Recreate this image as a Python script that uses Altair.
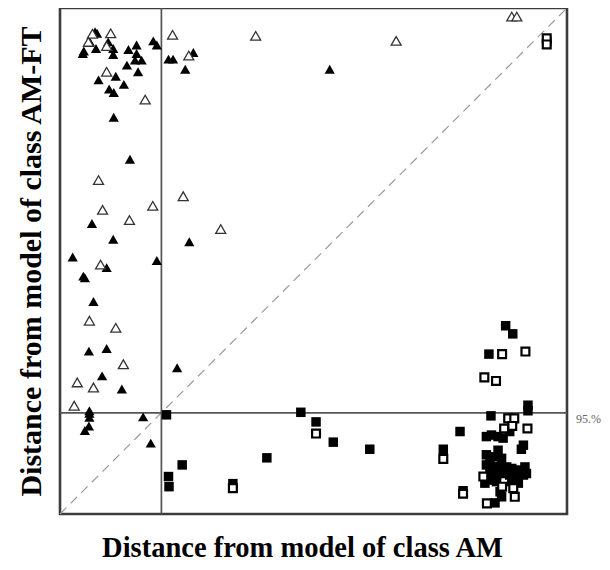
import altair as alt
import pandas as pd

# Class AM-FT samples (triangles)
tri_fill_x = [6.9, 5.9, 4.7, 4.5, 7.1, 9.5, 10.5, 10.5, 13.5, 15.1, 15.1, 14.8, 16.1, 13.2, 15.4,
              18.4, 19.1, 21.4, 22.3, 26.3, 24.7, 7.6, 11.0, 12.6, 9.7, 10.6, 10.6, 13.8, 6.3, 10.5,
              25.5, 2.5, 9.2, 19.1, 4.6, 4.9, 6.6, 5.7, 9.2, 23.1, 8.3, 12.2, 5.8, 5.8, 5.8, 16.4,
              5.7, 4.9, 17.9, 53.2, 7.3]
tri_fill_y = [95.3, 93.3, 91.5, 91.0, 92.0, 93.3, 92.0, 90.8, 91.8, 92.7, 91.0, 89.7, 89.7, 88.7, 87.4,
              93.5, 92.7, 89.9, 89.9, 91.2, 87.9, 85.8, 86.5, 84.9, 84.0, 83.3, 78.4, 70.1, 57.4, 54.3,
              53.8, 50.8, 48.7, 50.1, 47.0, 46.7, 42.0, 32.2, 32.7, 28.9, 27.3, 24.7, 20.4, 19.9, 19.1, 19.2,
              17.4, 16.5, 14.0, 87.9, 95.0]
tri_open_x = [6.4, 10.0, 5.6, 9.2, 22.2, 25.4, 9.2, 16.8, 7.6, 24.3, 18.3, 8.4, 13.7, 31.7, 8.0,
              5.8, 11.0, 12.5, 3.4, 6.6, 2.8, 38.6, 66.3, 89.1, 90.1]
tri_open_y = [94.9, 95.0, 93.3, 92.5, 94.7, 90.6, 87.4, 81.9, 66.0, 62.8, 60.9, 60.1, 58.1, 56.3, 49.3,
              38.2, 36.8, 29.6, 26.0, 25.0, 21.4, 94.5, 93.5, 98.3, 98.3]

# Class AM samples (squares)
sq_fill_x = [21.0, 47.5, 50.5, 53.9, 61.1, 40.8, 24.1, 21.4, 21.5, 34.1, 75.6, 78.9, 79.5, 96.0,
             87.9, 89.3, 84.6, 92.3, 92.3, 85.0, 88.7,
             84.1, 85.1, 86.4, 87.4, 86.4, 84.1, 84.8, 85.8, 87.1, 84.1, 85.4, 86.8, 88.1, 89.1, 90.1,
             84.8, 86.1, 87.4, 88.7, 90.1, 84.5, 86.1, 89.1, 90.4, 91.7, 92.0, 91.4, 91.4, 91.0, 83.8,
             86.8, 87.1, 85.8]
sq_fill_y = [19.6, 20.1, 18.2, 14.2, 12.8, 11.1, 9.7, 7.4, 5.4, 6.0, 12.8, 16.3, 4.6, 93.4,
             37.2, 35.6, 31.6, 21.5, 20.4, 19.4, 16.3,
             15.3, 15.6, 15.3, 15.0, 12.6, 11.7, 10.7, 11.3, 11.0, 9.7, 9.3, 9.3, 9.3, 9.0, 8.7,
             8.0, 7.7, 8.0, 7.7, 7.4, 6.7, 6.4, 6.4, 6.1, 9.3, 8.0, 7.7, 13.6, 12.8, 6.1,
             4.4, 3.4, 2.2]
sq_open_x = [87.2, 91.8, 83.7, 86.0, 88.4, 89.6, 89.2, 87.6, 92.2, 83.5, 87.2, 89.4, 89.7, 84.2,
             50.5, 75.6, 34.1, 79.5, 96.0, 96.0]
sq_open_y = [31.6, 32.1, 27.0, 26.3, 18.9, 18.9, 17.4, 16.9, 16.9, 7.4, 5.4, 5.1, 3.4, 2.1,
             15.9, 10.9, 5.1, 4.0, 94.0, 92.8]

crit_x = 20
crit_y = 20
crit_label = "95.%"

xs = alt.Scale(domain=[0, 100], nice=False, zero=False)
ys = alt.Scale(domain=[0, 100], nice=False, zero=False)

ax_x = alt.Axis(labels=False, ticks=False, domain=False, grid=False,
                title="Distance from model of class AM", titleFont="Liberation Serif",
                titleFontSize=28.5, titleFontWeight="bold", titleColor="black", titlePadding=19,
                titleX=242, titleAlign="center")
ax_y = alt.Axis(labels=False, ticks=False, domain=False, grid=False,
                title="Distance from model of class AM-FT", titleFont="Liberation Serif",
                titleFontSize=30, titleFontWeight="bold", titleColor="black", titlePadding=14)

frame = alt.Chart(pd.DataFrame({"x": [0], "x2": [100], "y": [0], "y2": [100]})).mark_rect(
    fill="white", stroke="#3c3c3c", strokeWidth=2.6
).encode(x=alt.X("x:Q", scale=xs, axis=ax_x), x2="x2:Q",
         y=alt.Y("y:Q", scale=ys, axis=ax_y), y2="y2:Q")

diag = alt.Chart(pd.DataFrame({"x": [0, 100], "y": [0, 100]})).mark_line(
    color="#9a9a9a", strokeDash=[9, 6], strokeWidth=1.2
).encode(x=alt.X("x:Q", scale=xs), y=alt.Y("y:Q", scale=ys))

vline = alt.Chart(pd.DataFrame({"x": [crit_x]})).mark_rule(color="#555555", strokeWidth=1.7).encode(
    x=alt.X("x:Q", scale=xs))
hline = alt.Chart(pd.DataFrame({"y": [crit_y]})).mark_rule(color="#555555", strokeWidth=1.7).encode(
    y=alt.Y("y:Q", scale=ys))
lab = alt.Chart(pd.DataFrame({"x": [100], "y": [crit_y], "t": [crit_label]})).mark_text(
    align="left", baseline="top", dx=9, dy=1, font="Liberation Serif", fontSize=12, color="#666666"
).encode(x=alt.X("x:Q", scale=xs), y=alt.Y("y:Q", scale=ys), text="t:N")

def pts(x, y):
    return pd.DataFrame({"x": x, "y": y})

sqf = alt.Chart(pts(sq_fill_x, sq_fill_y)).mark_point(
    shape="square", filled=True, color="black", size=90, opacity=1
).encode(x=alt.X("x:Q", scale=xs), y=alt.Y("y:Q", scale=ys))
sqo = alt.Chart(pts(sq_open_x, sq_open_y)).mark_point(
    shape="square", fill="white", stroke="black", strokeWidth=2.2, size=62, opacity=1, fillOpacity=1
).encode(x=alt.X("x:Q", scale=xs), y=alt.Y("y:Q", scale=ys))
trf = alt.Chart(pts(tri_fill_x, tri_fill_y)).mark_point(
    shape="triangle-up", filled=True, color="black", size=105, opacity=1
).encode(x=alt.X("x:Q", scale=xs), y=alt.Y("y:Q", scale=ys))
tro = alt.Chart(pts(tri_open_x, tri_open_y)).mark_point(
    shape="triangle-up", fill="white", stroke="#333333", strokeWidth=1.3, size=100, opacity=1, fillOpacity=1
).encode(x=alt.X("x:Q", scale=xs), y=alt.Y("y:Q", scale=ys))

chart = alt.layer(frame, diag, vline, hline, lab, sqf, sqo, trf, tro).properties(
    width=507, height=506,
    autosize=alt.AutoSizeParams(type="none"),
    padding={"left": 52, "top": 0, "right": 35, "bottom": 52},
).configure_view(strokeWidth=0).configure(background="white")

chart.save("out.html", embed_options={"renderer": "svg", "actions": False})
